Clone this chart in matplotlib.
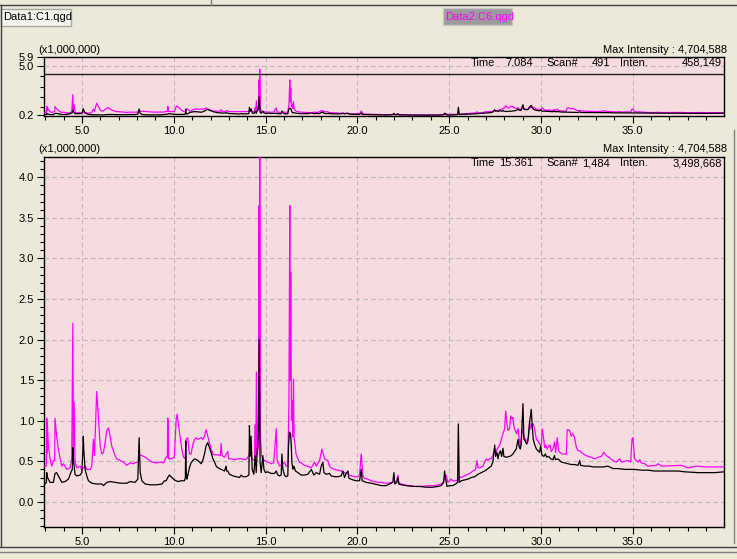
import numpy as np
import matplotlib
matplotlib.use("Agg")
import matplotlib.pyplot as plt
from matplotlib.patches import Rectangle
from matplotlib.lines import Line2D
from matplotlib.ticker import MultipleLocator, FixedLocator, FormatStrFormatter

W, H = 737, 559
plt.rcParams['font.family'] = ['Liberation Sans', 'DejaVu Sans']
plt.rcParams['font.size'] = 8

# retention time (min), intensity (x1,000,000)
# Data2:C6.qgd (magenta)
c6_points = [
    (2.93,0.44),(3.06,0.44),(3.08,1.03),(3.10,0.60),(3.11,0.97),(3.17,0.69),(3.26,0.53),(3.35,0.44),
    (3.44,0.51),(3.51,0.51),(3.53,1.03),(3.62,0.81),(3.71,0.65),(3.81,0.53),(3.90,0.44),(3.99,0.47),
    (4.17,0.40),(4.35,0.42),(4.44,0.53),(4.50,2.20),(4.53,0.60),(4.57,1.23),(4.62,0.49),(4.71,0.42),
    (4.90,0.44),(4.99,0.40),(5.08,0.42),(5.17,0.44),(5.26,0.40),(5.45,0.40),(5.53,0.44),(5.62,0.77),
    (5.68,0.57),(5.80,1.36),(5.89,1.06),(5.99,0.69),(6.08,0.59),(6.17,0.61),(6.26,0.73),(6.35,0.88),
    (6.44,0.91),(6.53,0.81),(6.62,0.69),(6.71,0.63),(6.80,0.57),(6.89,0.53),(7.08,0.51),(7.26,0.49),
    (7.44,0.45),(7.62,0.48),(7.80,0.47),(7.98,0.49),(8.09,0.49),(8.11,0.58),(8.26,0.57),(8.44,0.55),
    (8.62,0.52),(8.80,0.49),(9.07,0.48),(9.26,0.49),(9.44,0.48),(9.58,0.55),(9.65,0.55),(9.67,1.03),
    (9.69,0.98),(9.72,0.53),(9.85,0.53),(10.03,0.55),(10.13,1.02),(10.18,1.08),(10.25,0.96),(10.34,0.81),
    (10.44,0.65),(10.53,0.55),(10.62,0.53),(10.67,0.77),(10.76,0.79),(10.85,0.59),(10.94,0.59),(11.04,0.71),
    (11.13,0.77),(11.22,0.79),(11.31,0.77),(11.49,0.79),(11.58,0.77),(11.67,0.81),(11.76,0.89),(11.85,0.81),
    (11.94,0.73),(12.03,0.65),(12.13,0.59),(12.22,0.58),(12.40,0.58),(12.49,0.57),(12.54,0.57),(12.58,0.72),
    (12.63,0.57),(12.76,0.55),(12.94,0.62),(12.99,0.53),(13.14,0.53),(13.31,0.52),(13.49,0.53),(13.67,0.53),
    (13.85,0.52),(13.98,0.53),(14.09,0.57),(14.16,0.65),(14.27,0.52),(14.40,0.51),(14.42,0.95),(14.47,0.55),
    (14.50,1.60),(14.55,0.60),(14.62,0.70),(14.64,3.65),(14.66,0.90),(14.68,4.70),(14.72,0.80),(14.78,0.57),
    (14.85,0.53),(14.94,0.51),(15.12,0.49),(15.30,0.47),(15.44,0.48),(15.58,0.90),(15.63,0.51),(15.76,0.44),
    (15.94,0.47),(16.03,0.49),(16.12,0.44),(16.21,0.44),(16.27,1.20),(16.32,3.65),(16.34,1.50),(16.37,2.83),
    (16.41,1.00),(16.45,1.25),(16.48,0.80),(16.52,1.51),(16.55,0.81),(16.66,0.59),(16.76,0.53),(16.85,0.49),
    (16.94,0.48),(17.12,0.45),(17.30,0.44),(17.49,0.42),(17.67,0.49),(17.76,0.44),(17.94,0.51),(18.07,0.65),
    (18.12,0.61),(18.21,0.53),(18.30,0.52),(18.39,0.51),(18.48,0.44),(18.57,0.42),(18.67,0.41),(18.76,0.40),
    (18.94,0.39),(19.12,0.38),(19.30,0.36),(19.49,0.34),(19.67,0.32),(19.85,0.31),(20.03,0.31),(20.12,0.34),
    (20.21,0.59),(20.30,0.32),(20.39,0.29),(20.57,0.28),(20.75,0.26),(20.94,0.25),(21.12,0.24),(21.30,0.24),
    (21.48,0.23),(21.67,0.23),(21.84,0.24),(21.93,0.24),(22.02,0.26),(22.12,0.24),(22.21,0.33),(22.26,0.23),
    (22.39,0.22),(22.57,0.21),(22.75,0.20),(22.93,0.20),(23.11,0.19),(23.48,0.19),(23.84,0.20),(24.21,0.20),
    (24.39,0.21),(24.57,0.22),(24.66,0.24),(24.75,0.28),(24.84,0.33),(24.93,0.24),(25.02,0.26),(25.11,0.28),
    (25.20,0.26),(25.39,0.26),(25.48,0.28),(25.57,0.31),(25.66,0.30),(25.75,0.31),(25.93,0.33),(26.11,0.35),
    (26.30,0.38),(26.44,0.40),(26.51,0.51),(26.57,0.42),(26.69,0.42),(26.84,0.44),(26.93,0.49),(27.02,0.53),
    (27.11,0.51),(27.20,0.53),(27.29,0.53),(27.38,0.57),(27.48,0.65),(27.57,0.62),(27.66,0.67),(27.75,0.70),
    (27.84,0.77),(27.93,0.84),(28.02,0.90),(28.08,1.12),(28.15,0.96),(28.20,0.88),(28.29,0.90),(28.35,1.06),
    (28.42,1.02),(28.47,1.04),(28.53,0.92),(28.60,0.88),(28.67,0.84),(28.75,0.90),(28.82,0.77),(28.87,0.69),
    (28.93,0.81),(29.02,0.90),(29.07,0.81),(29.15,0.77),(29.25,0.75),(29.33,0.81),(29.38,0.98),(29.44,0.90),
    (29.51,0.96),(29.58,0.96),(29.65,0.90),(29.75,0.77),(29.84,0.75),(29.93,0.71),(30.02,0.70),(30.07,0.90),
    (30.15,0.77),(30.20,0.67),(30.27,0.70),(30.34,0.65),(30.42,0.69),(30.49,0.70),(30.56,0.62),(30.65,0.65),
    (30.74,0.74),(30.80,0.61),(30.89,0.79),(30.96,0.63),(31.04,0.61),(31.14,0.59),(31.38,0.59),(31.43,0.89),
    (31.56,0.88),(31.65,0.81),(31.74,0.84),(31.83,0.79),(31.93,0.67),(32.02,0.63),(32.11,0.63),(32.20,0.61),
    (32.38,0.58),(32.56,0.56),(32.74,0.55),(32.93,0.53),(33.11,0.55),(33.29,0.56),(33.42,0.61),(33.56,0.57),
    (33.69,0.55),(33.80,0.53),(33.92,0.51),(34.11,0.49),(34.20,0.51),(34.29,0.53),(34.38,0.49),(34.74,0.51),
    (34.89,0.49),(34.92,0.63),(34.96,0.77),(35.01,0.79),(35.05,0.67),(35.10,0.53),(35.20,0.51),(35.29,0.49),
    (35.38,0.52),(35.47,0.48),(35.65,0.47),(35.83,0.44),(36.29,0.45),(36.38,0.47),(36.56,0.44),(37.65,0.45),
    (38.01,0.42),(38.47,0.44),(39.01,0.43),(39.97,0.43),
]

# Data1:C1.qgd (black)
c1_points = [
    (2.93,0.24),(2.99,0.22),(3.06,0.24),(3.08,0.36),(3.12,0.30),(3.17,0.28),(3.26,0.24),(3.44,0.24),
    (3.53,0.35),(3.62,0.36),(3.71,0.32),(3.81,0.28),(3.90,0.24),(4.08,0.25),(4.26,0.28),(4.39,0.36),
    (4.47,0.40),(4.50,0.67),(4.53,0.53),(4.62,0.34),(4.71,0.32),(4.90,0.33),(4.99,0.36),(5.04,0.60),
    (5.07,0.81),(5.10,0.63),(5.17,0.40),(5.26,0.32),(5.35,0.26),(5.53,0.23),(5.80,0.22),(6.08,0.22),
    (6.17,0.20),(6.35,0.24),(6.53,0.25),(6.80,0.24),(7.08,0.23),(7.44,0.23),(7.62,0.25),(7.89,0.24),
    (8.04,0.28),(8.11,0.79),(8.17,0.36),(8.26,0.26),(8.44,0.22),(8.71,0.21),(9.07,0.21),(9.35,0.22),
    (9.50,0.26),(9.58,0.26),(9.67,0.30),(9.76,0.33),(9.85,0.31),(10.03,0.27),(10.13,0.26),(10.22,0.25),
    (10.40,0.26),(10.58,0.26),(10.63,0.30),(10.65,0.75),(10.67,0.40),(10.71,0.28),(10.76,0.32),(10.85,0.42),
    (10.94,0.48),(11.04,0.51),(11.13,0.53),(11.22,0.52),(11.31,0.51),(11.49,0.47),(11.58,0.51),(11.67,0.59),
    (11.76,0.69),(11.85,0.73),(11.94,0.67),(12.03,0.61),(12.13,0.53),(12.22,0.49),(12.31,0.44),(12.40,0.42),
    (12.49,0.41),(12.58,0.40),(12.76,0.38),(12.85,0.44),(12.88,0.38),(12.94,0.38),(13.03,0.34),(13.22,0.32),
    (13.40,0.31),(13.58,0.30),(13.67,0.33),(13.76,0.31),(13.94,0.31),(14.09,0.33),(14.12,0.94),(14.16,0.56),
    (14.21,0.81),(14.27,0.40),(14.36,0.34),(14.43,0.57),(14.49,0.36),(14.54,0.61),(14.60,0.81),(14.65,2.00),
    (14.70,0.49),(14.76,0.36),(14.85,0.57),(14.91,0.40),(14.99,0.36),(15.12,0.37),(15.30,0.35),(15.49,0.35),
    (15.58,0.38),(15.67,0.33),(15.76,0.32),(15.85,0.33),(15.89,0.59),(15.94,0.40),(16.03,0.33),(16.12,0.31),
    (16.21,0.32),(16.25,0.69),(16.30,0.86),(16.36,0.84),(16.40,0.69),(16.43,0.49),(16.49,0.40),(16.54,0.44),
    (16.63,0.38),(16.76,0.36),(16.94,0.33),(17.12,0.33),(17.30,0.34),(17.49,0.40),(17.63,0.33),(17.76,0.36),
    (17.94,0.34),(18.03,0.44),(18.12,0.49),(18.18,0.36),(18.30,0.34),(18.48,0.35),(18.57,0.32),(18.76,0.31),
    (18.94,0.31),(19.12,0.32),(19.21,0.38),(19.30,0.30),(19.39,0.35),(19.49,0.38),(19.54,0.29),(19.76,0.27),
    (19.94,0.26),(20.12,0.26),(20.21,0.40),(20.26,0.26),(20.48,0.24),(20.75,0.23),(20.94,0.22),(21.12,0.21),
    (21.30,0.20),(21.57,0.20),(21.75,0.22),(21.93,0.24),(21.99,0.36),(22.04,0.22),(22.15,0.24),(22.21,0.30),
    (22.26,0.22),(22.39,0.21),(22.66,0.20),(23.02,0.19),(23.39,0.19),(23.75,0.18),(24.11,0.18),(24.39,0.19),
    (24.57,0.20),(24.70,0.24),(24.75,0.38),(24.81,0.28),(24.88,0.19),(25.02,0.20),(25.20,0.20),(25.35,0.22),
    (25.46,0.24),(25.50,0.96),(25.55,0.24),(25.66,0.26),(25.84,0.27),(26.02,0.28),(26.21,0.30),(26.39,0.31),
    (26.57,0.34),(26.75,0.36),(26.93,0.38),(27.06,0.40),(27.17,0.42),(27.29,0.44),(27.38,0.49),(27.48,0.70),
    (27.53,0.56),(27.60,0.61),(27.66,0.53),(27.71,0.59),(27.79,0.63),(27.86,0.56),(27.93,0.66),(27.98,0.56),
    (28.11,0.55),(28.29,0.56),(28.38,0.57),(28.47,0.59),(28.56,0.62),(28.65,0.65),(28.75,0.77),(28.80,0.69),
    (28.87,0.65),(28.93,0.71),(28.96,0.92),(29.02,1.21),(29.07,0.77),(29.15,0.75),(29.22,0.71),(29.29,0.75),
    (29.38,0.98),(29.47,1.14),(29.53,0.92),(29.58,0.77),(29.65,0.71),(29.75,0.65),(29.84,0.63),(29.93,0.61),
    (29.98,0.69),(30.05,0.58),(30.16,0.56),(30.24,0.59),(30.31,0.55),(30.42,0.56),(30.53,0.53),(30.65,0.52),
    (30.74,0.57),(30.78,0.52),(30.93,0.53),(31.11,0.49),(31.29,0.48),(31.47,0.47),(31.65,0.46),(31.83,0.46),
    (32.02,0.45),(32.11,0.51),(32.16,0.45),(32.38,0.44),(32.65,0.44),(32.84,0.43),(33.11,0.43),(33.38,0.43),
    (33.65,0.44),(33.74,0.43),(33.92,0.41),(34.20,0.41),(34.56,0.40),(35.10,0.40),(35.47,0.39),(35.83,0.39),
    (36.20,0.38),(36.92,0.38),(37.47,0.38),(37.83,0.37),(38.56,0.36),(39.47,0.36),(39.97,0.37),
]

x_ticks = [5.0, 10.0, 15.0, 20.0, 25.0, 30.0, 35.0]
top_yticks = [0.2, 5.0, 5.9]
xlim = (2.93, 39.97)
main_ylim = (-0.31, 4.25)
top_ylim = (0.1, 5.9)

top_info = ["Time", "7.084", "Scan#", "491", "Inten.", "458,149"]
main_info = ["Time", "15.361", "Scan#", "1,484", "Inten.", "3,498,668"]
max_label = "Max Intensity : 4,704,588"
scale_label = "(x1,000,000)"

WIN = '#ECE9D8'
PINK = '#F7DCDF'
GRIDC = '#B8B8B8'

c6 = np.array(c6_points)
c1 = np.array(c1_points)


def fx(x):
    return x / W


def fy(y):
    return 1 - y / H


fig = plt.figure(figsize=(W / 100, H / 100), dpi=100, facecolor=WIN)

ax_top = fig.add_axes([fx(44), fy(116), fx(724) - fx(44), fy(57) - fy(116)])
ax = fig.add_axes([fx(44), fy(527), fx(724) - fx(44), fy(157) - fy(527)])

for a in (ax_top, ax):
    a.set_facecolor(PINK)
    a.plot(c6[:, 0], c6[:, 1], color='#FF00FF', lw=0.9, zorder=3)
    a.plot(c1[:, 0], c1[:, 1], color='black', lw=0.9, zorder=4)
    a.set_xlim(*xlim)
    a.xaxis.set_major_locator(FixedLocator(x_ticks))
    a.xaxis.set_minor_locator(MultipleLocator(1.0))
    a.xaxis.set_major_formatter(FormatStrFormatter('%.1f'))
    a.grid(True, axis='x', which='major', color=GRIDC, ls=(0, (4, 3)), lw=0.8)
    for s in a.spines.values():
        s.set_color('black')
        s.set_linewidth(1.0)
    a.tick_params(which='major', direction='out', length=5, width=0.8, pad=2, labelsize=8)
    a.tick_params(which='minor', direction='out', length=3, width=0.8)
    a.set_axisbelow(True)

ax.set_ylim(*main_ylim)
ax.yaxis.set_major_locator(MultipleLocator(0.5))
ax.yaxis.set_minor_locator(MultipleLocator(0.1))
ax.yaxis.set_major_formatter(FormatStrFormatter('%.1f'))
ax.grid(True, axis='y', which='major', color=GRIDC, ls=(0, (4, 3)), lw=0.8)

ax_top.set_ylim(*top_ylim)
ax_top.yaxis.set_major_locator(FixedLocator(top_yticks))
ax_top.yaxis.set_minor_locator(FixedLocator([1, 2, 3, 4]))
ax_top.yaxis.set_major_formatter(FormatStrFormatter('%.1f'))
ax_top.axhline(5.0, color=GRIDC, ls=(0, (4, 3)), lw=0.8, zorder=1)
ax_top.axhline(main_ylim[1], color='#202020', lw=1.0, zorder=5)

# header texts
for ytxt in (50, 149):
    fig.text(fx(38), fy(ytxt), scale_label, ha='left', va='center', fontsize=8)
    fig.text(fx(727), fy(ytxt), max_label, ha='right', va='center', fontsize=8)

# info rows: (x, alignment) for each item
info_pos = [(471, 'left'), (533, 'right'), (546, 'left'), (610, 'right'), (620, 'left'), (722, 'right')]
for (xp, al), t in zip(info_pos, top_info):
    fig.text(fx(xp), fy(62.5), t, ha=al, va='center', fontsize=8)
for (xp, al), t in zip(info_pos, main_info):
    fig.text(fx(xp), fy(163), t, ha=al, va='center', fontsize=8)

# window decorations
fig.add_artist(Line2D([0, 1], [fy(4.5), fy(4.5)], color='#404040', lw=1.0))
fig.add_artist(Line2D([fx(211), fx(211)], [fy(0), fy(4.5)], color='#808080', lw=1.0))
fig.add_artist(Line2D([fx(1.5), fx(1.5)], [fy(4.5), fy(546)], color='#404040', lw=1.0))
fig.add_artist(Line2D([0, 1], [fy(546.5), fy(546.5)], color='#404040', lw=1.0))
fig.add_artist(Line2D([0, 1], [fy(552), fy(552)], color='#808080', lw=1.0))
fig.add_artist(Line2D([fx(733.5), fx(733.5)], [fy(130), fy(543)], color='#808080', lw=1.0))

fig.add_artist(Rectangle((fx(1), fy(26)), fx(70), fy(9) - fy(26), facecolor='#F4F3EE',
                         edgecolor='#A8A8A0', lw=1.0))
fig.text(fx(3), fy(17.5), "Data1:C1.qgd", ha='left', va='center', fontsize=8)
fig.add_artist(Rectangle((fx(443), fy(25)), fx(69), fy(8) - fy(25), facecolor='#9C9C9C',
                         edgecolor='#C8C8C8', lw=1.0))
fig.text(fx(445), fy(16.5), "Data2:C6.qgd", ha='left', va='center', fontsize=8, color='#FF00FF')

fig.savefig('out.png', dpi=100, facecolor=WIN)
